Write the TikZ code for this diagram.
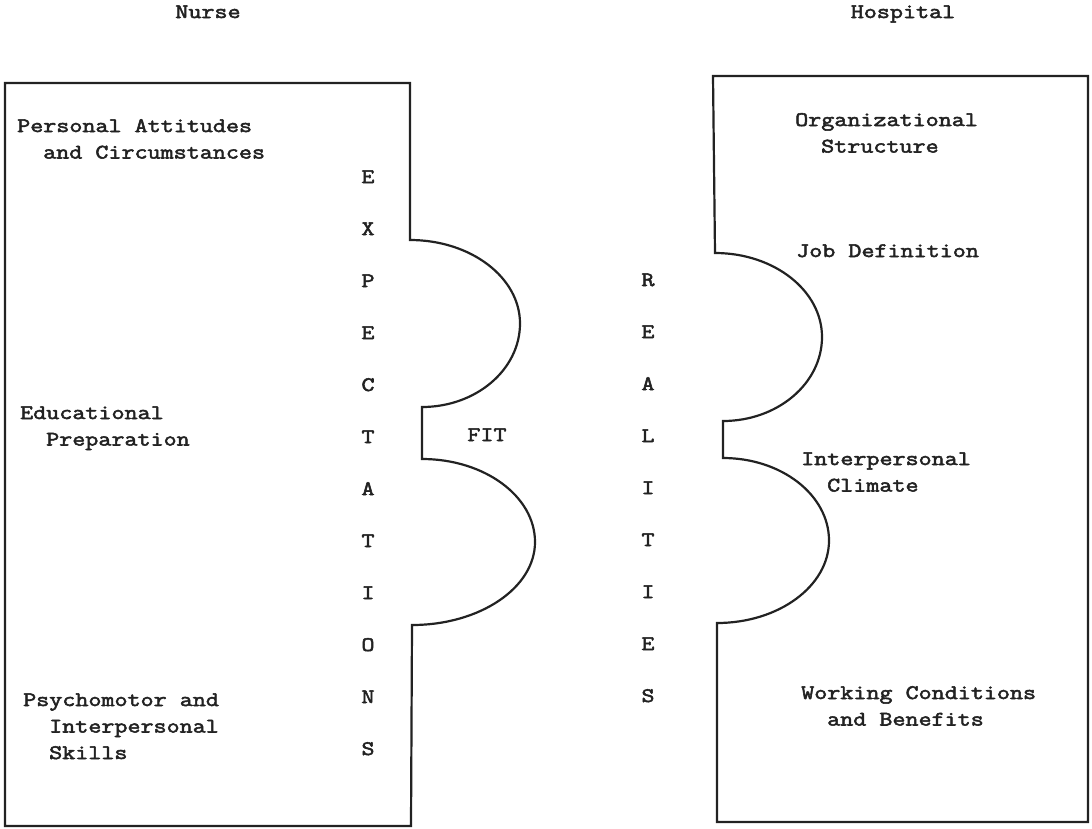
\documentclass[tikz,border=0pt]{standalone}
\usepackage{fontspec}
\newfontfamily\tw[FakeBold=2.6,FakeStretch=1.23]{Latin Modern Mono}
\definecolor{inkc}{RGB}{34,34,34}
\tikzset{
  outline/.style={draw=inkc, line width=2.2pt, line join=miter},
  lbl/.style={inner sep=0pt, anchor=base west, align=left, text=inkc,
              font=\tw\fontsize{20.6}{26.5}\selectfont},
  ltr/.style={inner sep=0pt, anchor=base, text=inkc,
              font=\tw\fontsize{20.6}{26.5}\selectfont}
}
\begin{document}
\begin{tikzpicture}[x=1pt,y=-1pt]
\useasboundingbox (0,0) rectangle (1092,828);

% Nurse piece
\draw[outline] (5,83) -- (410,83) -- (410,240)
  .. controls (470.7,240) and (520,277.4) .. (520,323.5)
  .. controls (520,369.6) and (476.1,407) .. (422,407)
  -- (422,459)
  .. controls (484.4,459) and (535,496.2) .. (535,542)
  .. controls (535,587.8) and (479.9,625) .. (412,625)
  -- (411,826) -- (5,826) -- cycle;

% Hospital piece
\draw[outline] (1088,76) -- (713,76) -- (715,253)
  .. controls (774.1,253) and (822,290.6) .. (822,337)
  .. controls (822,383.4) and (777.6,421) .. (723,421)
  -- (723,458)
  .. controls (781.5,458) and (829,495) .. (829,540.5)
  .. controls (829,586) and (778.8,623) .. (717,623)
  -- (717,822) -- (1088,822) -- cycle;

% headings
\node[ltr] (nurse) at (208,18) {Nurse};
\node[ltr] (hospital) at (903,18) {Hospital};

% left labels (base = baseline of last line)
\node[lbl] (pac) at (17,158.5) {Personal Attitudes\\\hspace*{26pt}and Circumstances};
\node[lbl] (edu) at (20,445.5) {Educational\\\hspace*{26pt}Preparation};
\node[lbl] (psy) at (23,759) {Psychomotor and\\\hspace*{26pt}Interpersonal\\\hspace*{26pt}Skills};

% right labels
\node[lbl] (org) at (795,152.5) {Organizational\\\hspace*{26pt}Structure};
\node[lbl] (job) at (796,257) {Job Definition};
\node[lbl] (ipc) at (801,491.5) {Interpersonal\\\hspace*{26pt}Climate};
\node[lbl] (wcb) at (801,725.5) {Working Conditions\\\hspace*{26pt}and Benefits};

% vertical words
\foreach \c [count=\i] in {E,X,P,E,C,T,A,T,I,O,N,S}
  \node[ltr] (exp\i) at (368,{183+52*(\i-1)}) {\c};
\foreach \c [count=\i] in {R,E,A,L,I,T,I,E,S}
  \node[ltr] (rea\i) at (648,{286+52*(\i-1)}) {\c};

\node[ltr] (fit) at (487,441) {FIT};
\end{tikzpicture}
\end{document}
